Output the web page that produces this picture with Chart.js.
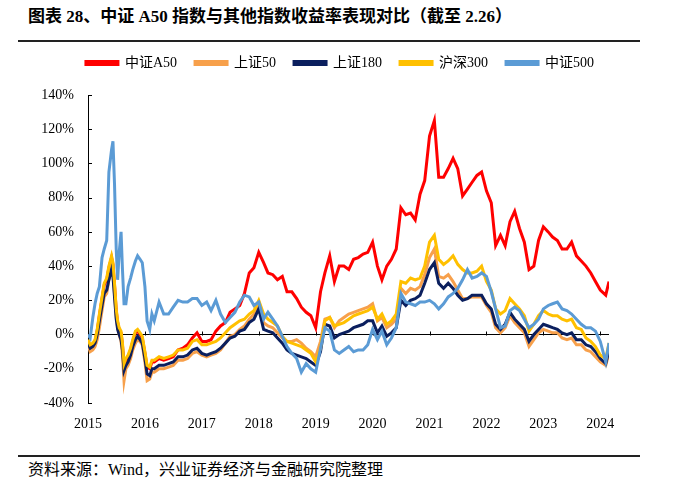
<!DOCTYPE html>
<html>
<head>
<meta charset="utf-8">
<script src="https://cdn.jsdelivr.net/npm/chart.js@4.4.1/dist/chart.umd.min.js"></script>
<style>
    body { margin: 0; background: #fff; width: 700px; height: 497px; position: relative; overflow: hidden; }
    #title { position: absolute; left: 28px; top: 2px; font: bold 17px "Liberation Serif", "Noto Sans CJK SC"; color: #000; white-space: nowrap; }
    .rule { position: absolute; left: 18px; width: 622px; height: 1.5px; background: #222; }
    #source { position: absolute; left: 28px; top: 456px; font: 16px "Liberation Serif", "Noto Sans CJK SC"; color: #000; white-space: nowrap; }
    #wrap { position: absolute; left: 0; top: 38px; width: 700px; height: 402px; }
</style>
</head>
<body>
<div id="title">图表 28、中证 A50 指数与其他指数收益率表现对比（截至 2.26）</div>
<div class="rule" style="top:40px"></div>
<div id="wrap"><canvas id="chart_returns"></canvas></div>
<div class="rule" style="top:455px"></div>
<div id="source">资料来源：Wind，兴业证券经济与金融研究院整理</div>
<script>
// dates of sampled points (2015-01 .. 2024-02-26)
const dates = [
    '2015-01-01','2015-01-15','2015-02-01','2015-02-15','2015-03-01','2015-03-15','2015-04-01','2015-04-15','2015-05-01','2015-05-15',
    '2015-06-01','2015-06-10','2015-06-20','2015-07-01','2015-07-10','2015-07-20','2015-08-01','2015-08-10','2015-08-20','2015-09-01',
    '2015-09-15','2015-10-01','2015-10-15','2015-11-01','2015-11-15','2015-12-01','2015-12-15',
    '2016-01-01','2016-01-15','2016-02-01','2016-02-15','2016-03-01','2016-04-01','2016-05-01','2016-06-01','2016-07-01','2016-08-01',
    '2016-09-01','2016-10-01','2016-11-01','2016-12-01',
    '2017-01-01','2017-02-01','2017-03-01','2017-04-01','2017-05-01','2017-06-01','2017-07-01','2017-08-01','2017-09-01','2017-10-01','2017-11-01','2017-12-01',
    '2018-01-01','2018-02-01','2018-03-01','2018-04-01','2018-05-01','2018-06-01','2018-07-01','2018-08-01','2018-09-01','2018-10-01','2018-11-01','2018-12-01',
    '2019-01-01','2019-02-01','2019-03-01','2019-04-01','2019-05-01','2019-06-01','2019-07-01','2019-08-01','2019-09-01','2019-10-01','2019-11-01','2019-12-01',
    '2020-01-01','2020-02-01','2020-03-01','2020-04-01','2020-05-01','2020-06-01','2020-07-01','2020-08-01','2020-09-01','2020-10-01','2020-11-01','2020-12-01',
    '2021-01-01','2021-02-01','2021-03-01','2021-04-01','2021-05-01','2021-06-01','2021-07-01','2021-08-01','2021-09-01','2021-10-01','2021-11-01','2021-12-01',
    '2022-01-01','2022-02-01','2022-03-01','2022-04-01','2022-05-01','2022-06-01','2022-07-01','2022-08-01','2022-09-01','2022-10-01','2022-11-01','2022-12-01',
    '2023-01-01','2023-02-01','2023-03-01','2023-04-01','2023-05-01','2023-06-01','2023-07-01','2023-08-01','2023-09-01','2023-10-01','2023-11-01','2023-12-01',
    '2024-01-01','2024-02-05','2024-02-26'
];

// cumulative return (%) per index
const a50 = [
    -4, -7, -6, -4, 2, 11, 21, 29, 32, 39, 45, 41, 29, 14, 7, 3, 1, -6, -18, -15, -13, -9, -4, 1, 2, 0, -2,
    -11, -19, -20, -16, -16, -14, -15, -14, -13, -9, -8, -6, -2, 1,
    -4, -4, -3, 2, 5, 7, 13, 15, 17, 24, 36, 39,
    48, 42, 36, 35, 32, 34, 25, 25, 21, 16, 13, 11,
    4, 25, 36, 46, 31, 40, 40, 38, 44, 45, 47, 48,
    54, 40, 32, 40, 44, 50, 74, 70, 71, 67, 82, 90,
    116, 125, 92, 92, 97, 103, 97, 81, 85, 89, 93, 95,
    84, 77, 52, 58, 52, 66, 72, 62, 54, 38, 40, 55,
    63, 60, 57, 55, 50, 50, 54, 46, 43, 40, 36, 31,
    26, 23, 31
];
const sz50 = [
    -6, -10, -9, -7, -3, 4, 14, 22, 24, 32, 40, 36, 24, 10, 4, 0, -4, -12, -27, -20, -18, -14, -9, -5, -3, -4, -6,
    -16, -27, -26, -22, -22, -20, -20, -19, -18, -15, -15, -14, -11, -10,
    -12, -13, -12, -11, -9, -5, -1, 0, 3, 5, 9, 12,
    18, 7, 5, 4, 1, -2, -4, -4, -3, -5, -8, -10,
    -13, -4, 9, 10, 4, 8, 10, 12, 13, 14, 15, 16,
    18, 8, 10, 4, 6, 9, 27, 24, 27, 26, 28, 35,
    45, 50, 34, 33, 35, 31, 26, 21, 21, 22, 22, 22,
    17, 13, 4, 1, 4, 11, 7, 4, 1, -7, -3, 1,
    3, 2, 1, 1, -2, -3, -2, -6, -6, -9, -10, -13,
    -16, -18, -11
];
const sz180 = [
    -5, -8, -7, -5, 0, 8, 17, 24, 26, 32, 38, 34, 22, 9, 3, 0, -3, -9, -21, -18, -16, -12, -7, -3, -1, -3, -5,
    -14, -23, -24, -20, -20, -18, -18, -17, -16, -13, -13, -12, -9, -8,
    -11, -12, -11, -10, -8, -5, -2, -1, 2, 3, 7, 9,
    15, 3, 2, 1, -2, -5, -9, -11, -12, -13, -14, -16,
    -18, -10, 6, 5, -2, 0, 1, 2, 4, 5, 6, 8,
    8, 1, 5, -1, 1, 4, 20, 17, 20, 21, 23, 30,
    38, 42, 30, 27, 30, 27, 23, 20, 21, 23, 23, 23,
    18, 15, 6, 3, 6, 13, 9, 6, 3, -4, 0, 3,
    6, 5, 4, 3, 1, 0, 1, -3, -3, -6, -7, -10,
    -14, -17, -9
];
const hs300 = [
    -3, -6, -5, -3, 3, 12, 22, 30, 33, 40, 46, 42, 30, 15, 8, 4, 2, -5, -17, -14, -12, -8, -3, 2, 3, 1, -1,
    -10, -18, -19, -15, -15, -13, -14, -13, -12, -9, -9, -8, -4, -3,
    -6, -6, -5, -4, -2, 1, 4, 6, 8, 9, 12, 14,
    20, 12, 9, 7, 5, -1, -4, -5, -6, -7, -9, -11,
    -16, -8, 8, 10, 5, 6, 7, 9, 11, 12, 13, 14,
    16, 9, 12, 6, 8, 12, 31, 30, 33, 32, 33, 40,
    54, 58, 44, 41, 43, 46, 41, 38, 36, 36, 37, 40,
    31, 26, 15, 12, 14, 21, 18, 15, 11, 2, 6, 11,
    14, 12, 11, 11, 9, 8, 9, 4, 3, -2, -4, -7,
    -12, -14, -5
];
const zz500 = [
    0, -2, 10, 18, 24, 28, 45, 50, 55, 95, 108, 113, 88, 50, 32, 48, 60, 38, 18, 18, 28, 33, 38, 43, 46, 44, 42,
    28, 8, 3, 12, 8, 19, 12, 12, 16, 20, 19, 19, 21, 21,
    17, 19, 14, 20, 12, 7, 10, 13, 19, 23, 22, 17,
    19, 9, 13, 9, 5, -1, -7, -11, -14, -22, -17, -20,
    -22, -8, 4, 2, -9, -11, -9, -7, -10, -9, -9, -6,
    3, -3, 2, -6, -2, 4, 24, 19, 18, 17, 19, 19,
    20, 18, 15, 18, 22, 24, 27, 32, 38, 33, 34, 36,
    34, 25, 15, 4, 5, 14, 16, 14, 9, 4, 6, 9,
    15, 17, 18, 19, 15, 14, 12, 9, 6, 4, 4, 2,
    -4, -16, -5
];

const seriesNames = ['中证A50', '上证50', '上证180', '沪深300', '中证500'];
const seriesColors = ['#FF0000', '#F7A04B', '#0B1F5E', '#FFC000', '#5B9BD5'];
const years = [2015, 2016, 2017, 2018, 2019, 2020, 2021, 2022, 2023, 2024];
const yTicks = [-40, -20, 0, 20, 40, 60, 80, 100, 120, 140];

// date string -> decimal year
const toYear = (s) => {
    const [y, m, d] = s.split('-').map(Number);
    const start = Date.UTC(y, 0, 1);
    const end = Date.UTC(y + 1, 0, 1);
    return y + (Date.UTC(y, m - 1, d) - start) / (end - start);
};
const xs = dates.map(toYear);
const toPoints = (vals) => vals.map((v, i) => ({x: xs[i], y: v}));

const serif = '"Liberation Serif", "Noto Sans CJK SC", serif';

// small inward tick marks: on the y axis and on the zero line
const tickMarks = {
    id: 'tickMarks',
    beforeDatasetsDraw(chart) {
        const {ctx, scales: {x, y}} = chart;
        ctx.save();
        ctx.strokeStyle = '#000';
        ctx.lineWidth = 1;
        ctx.beginPath();
        yTicks.forEach(v => {
            const py = Math.round(y.getPixelForValue(v)) + 0.5;
            ctx.moveTo(x.left, py);
            ctx.lineTo(x.left + 4, py);
        });
        const y0 = Math.round(y.getPixelForValue(0)) + 0.5;
        years.forEach(v => {
            const px = Math.round(x.getPixelForValue(v)) + 0.5;
            ctx.moveTo(px, y0);
            ctx.lineTo(px, y0 - 4);
        });
        ctx.stroke();
        ctx.restore();
    }
};

const allSeries = [a50, sz50, sz180, hs300, zz500];

new Chart('chart_returns', {
    type: 'line',
    data: {
        datasets: allSeries.map((vals, i) => ({
            label: seriesNames[i],
            data: toPoints(vals),
            borderColor: seriesColors[i],
            backgroundColor: seriesColors[i],
            borderWidth: 3,
            pointRadius: 0,
            tension: 0,
            // first series drawn at the bottom, last on top
            order: allSeries.length - i
        }))
    },
    options: {
        responsive: true,
        maintainAspectRatio: false,
        animation: false,
        layout: { padding: { left: 0, right: 20, top: 0, bottom: 0 } },
        plugins: {
            legend: {
                position: 'top',
                labels: {
                    sort: (a, b) => a.datasetIndex - b.datasetIndex,
                    boxWidth: 32,
                    boxHeight: 3,
                    padding: 18,
                    color: '#000',
                    font: { family: serif, size: 14 }
                }
            },
            tooltip: { enabled: false }
        },
        scales: {
            x: {
                type: 'linear',
                min: 2015,
                max: xs[xs.length - 1],
                afterBuildTicks: (scale) => { scale.ticks = years.map(v => ({value: v})); },
                afterFit: (scale) => { scale.height = 37; },
                grid: { display: false },
                border: { display: false },
                ticks: {
                    padding: 5,
                    maxRotation: 0,
                    autoSkip: false,
                    color: '#000',
                    font: { family: serif, size: 14 },
                    callback: (v) => String(v)
                }
            },
            // empty boxes used as spacers
            xTop: {
                type: 'linear',
                position: 'top',
                afterFit: (scale) => { scale.height = 15; },
                grid: { display: false },
                border: { display: false },
                ticks: { display: false }
            },
            y: {
                min: -40,
                max: 140,
                afterBuildTicks: (scale) => { scale.ticks = yTicks.map(v => ({value: v})); },
                afterFit: (scale) => { scale.width = 88; },
                grid: {
                    drawTicks: false,
                    color: (ctx) => ctx.tick && ctx.tick.value === 0 ? '#000' : 'rgba(0,0,0,0)',
                    lineWidth: 1
                },
                border: { display: true, color: '#000', width: 1 },
                ticks: {
                    padding: 14,
                    color: '#000',
                    font: { family: serif, size: 14 },
                    callback: (v) => v + '%'
                }
            },
            yRight: {
                type: 'linear',
                position: 'right',
                afterFit: (scale) => { scale.width = 71; },
                grid: { display: false },
                border: { display: false },
                ticks: { display: false }
            }
        }
    },
    plugins: [tickMarks]
});
</script>
</body>
</html>
